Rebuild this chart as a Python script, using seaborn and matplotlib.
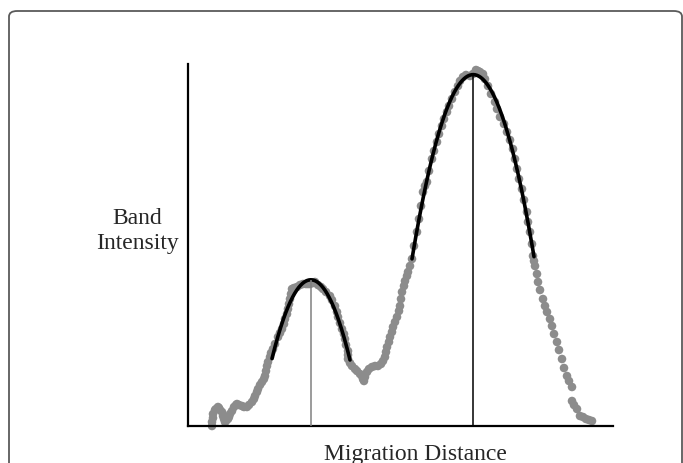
import numpy as np
import pandas as pd
import matplotlib
matplotlib.use("Agg")
import matplotlib.pyplot as plt
from matplotlib.patches import FancyBboxPatch
import seaborn as sns

# densitometry trace (arbitrary units)
migration = [24, 24, 25, 25, 27, 28, 30, 31, 32, 34, 35, 36, 37, 38, 40, 41, 42, 44,
             46, 48, 49, 51, 54, 56, 59, 61, 64, 66, 67, 69, 70, 72, 74, 76, 77, 78,
             79, 80, 82, 83, 85, 87, 90, 92, 94, 96, 97, 99, 100, 101, 102, 103, 104,
             106, 109, 112, 115, 118, 120, 122, 125, 127, 130, 133, 135, 138, 142,
             144, 147, 149, 150, 152, 154, 156, 157, 158, 160, 160, 160, 162, 164,
             167, 169, 172, 174, 175, 176, 177, 179, 181, 184, 187, 190, 193, 195,
             197, 198, 199, 201, 202, 204, 205, 207, 209, 211, 212, 213, 214, 216,
             217, 219, 220, 222, 224, 226, 229, 231, 233, 235, 237, 239, 241, 244,
             246, 249, 251, 254, 256, 259, 261, 264, 267, 270, 272, 275, 278, 282,
             285, 288, 290, 292, 295, 297, 300, 303, 307, 309, 312, 316, 319, 322,
             325, 327, 329, 331, 334, 336, 339, 340, 342, 344, 345, 346, 347, 349,
             350, 352, 355, 357, 359, 362, 364, 366, 369, 371, 374, 376, 379, 381,
             384, 384, 386, 389, 392, 395, 398, 401, 404]
intensity = [0, 4, 8, 12, 16, 17, 19, 18, 16, 14, 10, 7, 4, 5, 7, 9, 12, 15,
             19, 21, 22, 21, 20, 19, 19, 21, 24, 27, 30, 34, 37, 41, 44, 47, 50, 55,
             60, 64, 69, 73, 77, 82, 89, 93, 97, 102, 107, 112, 117, 122, 127, 132, 137,
             138, 139, 141, 142, 142, 142, 142, 143, 144, 141, 139, 137, 134, 130,
             126, 120, 114, 109, 103, 97, 92, 87, 81, 75, 71, 67, 63, 60,
             57, 55, 52, 50, 47, 45, 49, 54, 57, 59, 60, 60, 62, 65,
             69, 74, 79, 84, 89, 94, 99, 104, 109, 115, 120, 127, 134, 140,
             145, 150, 154, 160, 167, 180, 194, 207, 220, 234, 240, 244, 255, 267,
             275, 284, 292, 300, 307, 314, 320, 327, 334, 340, 345, 349, 351, 350,
             352, 356, 355, 354, 352, 347, 340, 332, 324, 317, 309, 302, 294, 286,
             277, 267, 257, 247, 237, 226, 214, 204, 194, 182, 170, 165, 160, 152,
             144, 136, 127, 120, 114, 107, 100, 92, 84, 76, 67, 58, 50, 45,
             39, 25, 21, 17, 10, 9, 7, 6, 5]

# x ranges used for the quadratic peak fits
fit_windows = [(84, 162), (224, 346)]
peak_line_colors = ["#808080", "black"]

df = pd.DataFrame({"migration": migration, "intensity": intensity})

sns.set_style("white")
plt.rcParams["font.family"] = ["Liberation Serif", "DejaVu Serif"]

fig = plt.figure(figsize=(6.83, 4.64), dpi=100)

# rounded panel frame
frame = FancyBboxPatch((9 / 683, -0.1), 673 / 683, 1.1 - 12 / 464,
                       boxstyle="round,pad=0,rounding_size=0.012",
                       transform=fig.transFigure, fill=False,
                       edgecolor="#5a5a5a", linewidth=1.3)
fig.patches.append(frame)

ax = fig.add_axes([188 / 683, 1 - 427 / 464, 425 / 683, 362 / 464])

sns.scatterplot(data=df, x="migration", y="intensity", ax=ax, color="#8c8c8c",
                s=38, edgecolor="none", clip_on=False, zorder=2)

for (lo, hi), lc in zip(fit_windows, peak_line_colors):
    sel = df[(df.migration >= lo) & (df.migration <= hi)]
    coef = np.polyfit(sel.migration, sel.intensity, 2)
    xs = np.linspace(lo, hi, 200)
    fit = pd.DataFrame({"x": xs, "y": np.polyval(coef, xs)})
    sns.lineplot(data=fit, x="x", y="y", ax=ax, color="black", linewidth=2.6,
                 zorder=3)
    x_peak = -coef[1] / (2 * coef[0])
    ax.vlines(x_peak, 0, np.polyval(coef, x_peak), color=lc, linewidth=1.1,
              zorder=4)

ax.set_xlim(0, 425)
ax.set_ylim(0, 362)
ax.set_xticks([])
ax.set_yticks([])
ax.set_xlabel("")
ax.set_ylabel("")
for side in ["top", "right"]:
    ax.spines[side].set_visible(False)
for side in ["left", "bottom"]:
    ax.spines[side].set_color("black")
    ax.spines[side].set_linewidth(1.6)

fig.text(137 / 683, 1 - 231 / 464, "Band\nIntensity", ha="center", va="center",
         fontsize=17, linespacing=1.25)
fig.text(415 / 683, 1 - 444 / 464, "Migration Distance", ha="center", va="top",
         fontsize=17)

fig.savefig("out.png", dpi=100)
